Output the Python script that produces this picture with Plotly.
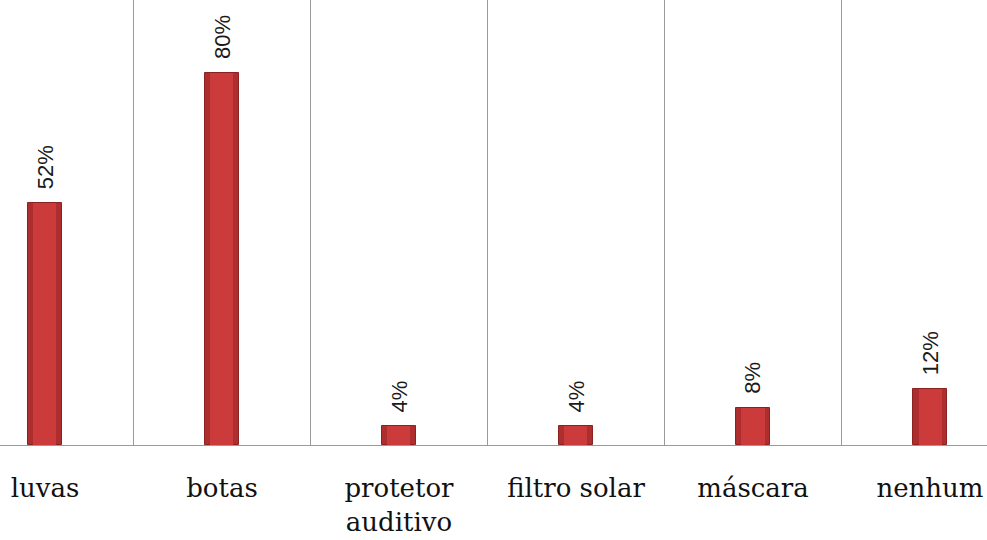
import plotly.graph_objects as go

categories = ["luvas", "botas", "protetor<br>auditivo", "filtro solar", "máscara", "nenhum"]
values = [52, 80, 4, 4, 8, 12]
labels = ["52%", "80%", "4%", "4%", "8%", "12%"]

xs = list(range(len(categories)))

fig = go.Figure()
# outer (darker) bar
fig.add_trace(go.Bar(
    x=xs, y=values, width=0.19,
    marker=dict(color="#AE2D2E", line=dict(color="#8A2222", width=1)),
    hoverinfo="skip", showlegend=False,
))
# inner (lighter) highlight bar
fig.add_trace(go.Bar(
    x=xs, y=values, width=0.13,
    marker=dict(color="#CB3B3C", line=dict(width=0)),
    hoverinfo="skip", showlegend=False,
))

for x, v, t in zip(xs, values, labels):
    fig.add_annotation(
        x=x, y=v, text=t, textangle=-90, showarrow=False,
        xanchor="center", yanchor="bottom", yshift=12,
        font=dict(family="Liberation Sans", size=22, color="#1a1a1a"),
    )

fig.update_layout(
    width=987, height=540,
    margin=dict(l=0, r=0, t=0, b=95, autoexpand=False),
    paper_bgcolor="white", plot_bgcolor="white",
    barmode="overlay",
    bargap=0,
)
fig.update_xaxes(
    range=[-0.254, 5.322],
    tickvals=xs, ticktext=categories,
    showgrid=False,
    minor=dict(tickvals=[i + 0.5 for i in range(5)], showgrid=True,
               gridcolor="#9A9A9A", gridwidth=1, ticks=""),
    showline=True, linecolor="#9A9A9A", linewidth=1,
    ticks="", zeroline=False, automargin=False,
    tickfont=dict(family="DejaVu Serif", size=26, color="#111"),
    ticklabelstandoff=20,
    ticklabeloverflow="allow",
)
fig.update_yaxes(
    range=[0, 95.7], showgrid=False, showticklabels=False,
    zeroline=False, showline=False, ticks="", automargin=False,
)

fig.write_html("out.html")
